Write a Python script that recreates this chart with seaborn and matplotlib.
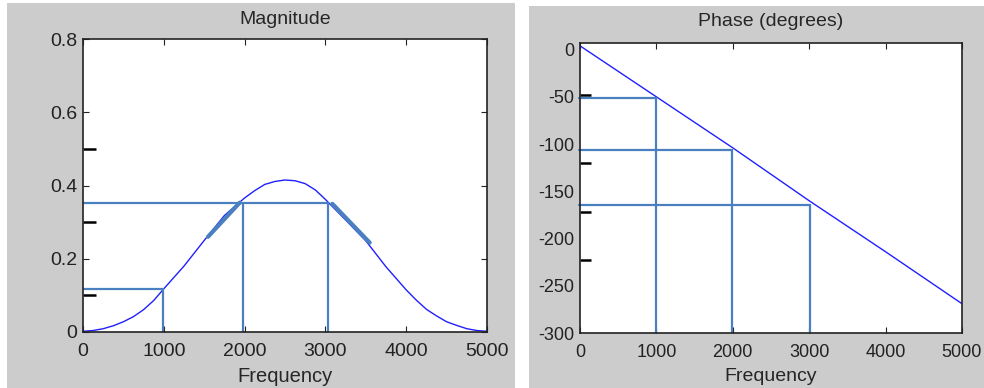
import matplotlib
matplotlib.use("Agg")
import matplotlib.pyplot as plt
from matplotlib.patches import Rectangle
import seaborn as sns
import pandas as pd

# magnitude response
freq = [0, 125, 250, 375, 500, 625, 750, 875, 1000, 1250, 1500, 1750, 2000, 2125, 2250,
        2375, 2500, 2625, 2750, 2875, 3000, 3250, 3500, 3750, 4000, 4125, 4250, 4375,
        4500, 4625, 4750, 4875, 5000]
magnitude = [0.002, 0.004, 0.009, 0.017, 0.028, 0.042, 0.061, 0.086, 0.118, 0.180, 0.250,
             0.318, 0.366, 0.386, 0.403, 0.411, 0.415, 0.413, 0.405, 0.388, 0.362, 0.306,
             0.249, 0.178, 0.115, 0.087, 0.062, 0.044, 0.028, 0.018, 0.009, 0.004, 0.002]

# phase response (straight line)
phase_freq = [0, 1000, 2000, 3000, 4000, 5000]
phase = [4, -50, -104, -160, -214, -269]

# hand drawn read-off lines
mag_marks_f = [990, 1980, 3032]
mag_marks_v = [0.117, 0.351, 0.351]
mag_hline_end = [990, 3032]
mag_hline_val = [0.117, 0.351]
thick_segments = [((1547, 1939), (0.260, 0.353)), ((3086, 3548), (0.350, 0.244))]

ph_marks_f = [992, 1995, 3010]
ph_marks_v = [-51, -106, -165]

GRAY = "#cccccc"
MARK = "#4a80c0"
CURVE = "#2020ff"

sns.set_style("ticks")
plt.rcParams["font.family"] = ["Liberation Sans", "DejaVu Sans"]
plt.rcParams["xtick.direction"] = "in"
plt.rcParams["ytick.direction"] = "in"

fig = plt.figure(figsize=(9.84, 3.88), dpi=100, facecolor="white")
bg = fig.add_axes([0, 0, 1, 1], zorder=-10)
bg.set_axis_off()
bg.set_xlim(0, 984)
bg.set_ylim(0, 388)
bg.add_patch(Rectangle((7, 0), 508, 385, facecolor=GRAY, edgecolor="none"))
bg.add_patch(Rectangle((529, 0), 455, 382, facecolor=GRAY, edgecolor="none"))

ax1 = fig.add_axes([83 / 984, 56 / 388, 404 / 984, 293 / 388])
ax2 = fig.add_axes([580 / 984, 55 / 388, 382 / 984, 290 / 388])

# ---- magnitude ----
df_mag = pd.DataFrame({"Frequency": freq, "Magnitude": magnitude})
sns.lineplot(data=df_mag, x="Frequency", y="Magnitude", ax=ax1, color=CURVE, linewidth=1.0)
for f, v in zip(mag_hline_end, mag_hline_val):
    ax1.plot([0, f], [v, v], color=MARK, linewidth=1.6)
for f, v in zip(mag_marks_f, mag_marks_v):
    ax1.plot([f, f], [0, v], color=MARK, linewidth=1.6)
for xs, ys in thick_segments:
    ax1.plot(xs, ys, color=MARK, linewidth=3)

ax1.set_xlim(0, 5000)
ax1.set_ylim(0, 0.8)
ax1.set_xticks([0, 1000, 2000, 3000, 4000, 5000])
ax1.set_xticklabels(["0", "1000", "2000", "3000", "4000", "5000"])
ax1.set_yticks([0, 0.2, 0.4, 0.6, 0.8])
ax1.set_yticklabels(["0", "0.2", "0.4", "0.6", "0.8"])
ax1.set_yticks([0.1, 0.3, 0.5], minor=True)
ax1.tick_params(which="major", labelsize=14, length=4, width=0.8, top=True, right=True,
                colors="#222222", pad=4)
ax1.tick_params(axis="x", which="major", pad=8)
ax1.tick_params(axis="y", which="minor", length=9, width=1.8, left=True, right=False, colors="black")
ax1.tick_params(axis="x", which="minor", length=0)
ax1.set_title("Magnitude", fontsize=14, pad=11)
ax1.set_xlabel("Frequency", fontsize=14.5, labelpad=5)
ax1.set_ylabel("")

# ---- phase ----
df_ph = pd.DataFrame({"Frequency": phase_freq, "Phase": phase})
sns.lineplot(data=df_ph, x="Frequency", y="Phase", ax=ax2, color=CURVE, linewidth=1.0)
for f, v in zip(ph_marks_f, ph_marks_v):
    ax2.plot([-15, f], [v, v], color=MARK, linewidth=1.6, clip_on=False)
    ax2.plot([f, f], [-300, v], color=MARK, linewidth=1.6)

ax2.set_xlim(0, 5000)
ax2.set_ylim(-300, 7)
ax2.set_xticks([0, 1000, 2000, 3000, 4000, 5000])
ax2.set_xticklabels(["0", "1000", "2000", "3000", "4000", "5000"])
ax2.set_yticks([0, -50, -100, -150, -200, -250, -300])
ax2.set_yticklabels(["0", "-50", "-100", "-150", "-200", "-250", "-300"])
ax2.set_yticks([-48, -120, -172, -223], minor=True)
ax2.tick_params(which="major", labelsize=13, length=4, width=0.8, top=True, right=True,
                colors="#222222", pad=4)
ax2.tick_params(axis="x", which="major", pad=8)
ax2.tick_params(axis="y", which="major", length=0)
ax2.tick_params(axis="y", which="minor", length=8, width=1.8, left=True, right=False, colors="black")
ax2.tick_params(axis="x", which="minor", length=0)
ax2.set_title("Phase (degrees)", fontsize=14, pad=12)
ax2.set_xlabel("Frequency", fontsize=14, labelpad=5)
ax2.set_ylabel("")

for ax in (ax1, ax2):
    ax.set_facecolor("white")
    for s in ax.spines.values():
        s.set_visible(True)
        s.set_color("#222222")
        s.set_linewidth(1.2)

fig.savefig("out.png", dpi=100, facecolor="white")
plt.close(fig)
